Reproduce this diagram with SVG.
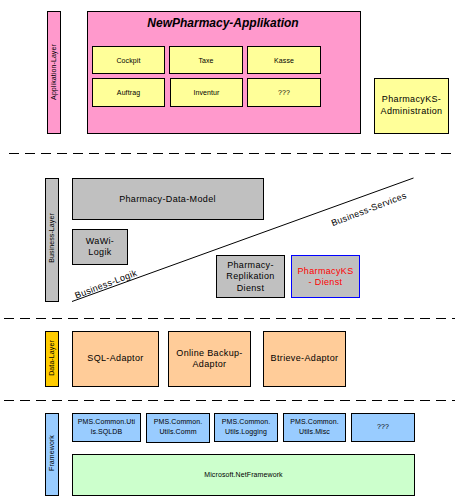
<svg xmlns="http://www.w3.org/2000/svg" width="461" height="500" viewBox="0 0 461 500">
<style>
rect{stroke:#000;stroke-width:1}
.pink{fill:#FF99CC}
.yel{fill:#FFFF99}
.gray{fill:#C0C0C0}
.peach{fill:#FFCC99}
.gold{fill:#FFCC00}
.blue{fill:#99CCFF}
.green{fill:#CCFFCC}
text{font-family:"Liberation Sans",Arial,sans-serif;text-anchor:middle;fill:#000}
.s{font-size:7px;letter-spacing:0.1px}
.m{font-size:9px;letter-spacing:0.35px}
.title{font-size:12px;font-weight:bold;font-style:italic}
.dash{stroke:#000;stroke-width:1;stroke-dasharray:10,6;fill:none}
</style>
<rect width="461" height="500" fill="#fff" style="stroke:none"/>
<g id="separators">
<line class="dash" x1="9" y1="153.5" x2="455" y2="153.5"/>
<line class="dash" x1="4" y1="318.5" x2="455" y2="318.5"/>
<line class="dash" x1="4" y1="400.5" x2="455" y2="400.5"/>
</g>
<g id="applikation-layer">
<rect class="pink" x="47.5" y="11.5" width="13" height="122"/>
<text class="s" transform="translate(56,72) rotate(-90)">Applikation-Layer</text>
</g>
<g id="newpharmacy">
<rect class="pink" x="87.5" y="11.5" width="273" height="122"/>
<text class="title" x="223" y="27">NewPharmacy-Applikation</text>
</g>
<g id="cockpit"><rect class="yel" x="92.5" y="46.5" width="72" height="27"/><text class="s" x="128.5" y="62.5">Cockpit</text></g>
<g id="taxe"><rect class="yel" x="169.5" y="46.5" width="73" height="27"/><text class="s" x="206" y="62.5">Taxe</text></g>
<g id="kasse"><rect class="yel" x="247.5" y="46.5" width="73" height="27"/><text class="s" x="284" y="62.5">Kasse</text></g>
<g id="auftrag"><rect class="yel" x="92.5" y="78.5" width="72" height="28"/><text class="s" x="128.5" y="94.5">Auftrag</text></g>
<g id="inventur"><rect class="yel" x="170.5" y="78.5" width="72" height="28"/><text class="s" x="206.5" y="94.5">Inventur</text></g>
<g id="app-unknown"><rect class="yel" x="247.5" y="78.5" width="73" height="28"/><text class="s" x="284" y="94.5">???</text></g>
<g id="pharmacyks-admin">
<rect class="yel" x="374.5" y="78.5" width="74" height="55"/>
<text class="m" x="411.5" y="102">PharmacyKS-</text>
<text class="m" x="411.5" y="114">Administration</text>
</g>
<g id="business-layer">
<rect class="gray" x="45.5" y="178.5" width="13" height="123"/>
<text class="s" transform="translate(54,238) rotate(-90)">Business-Layer</text>
</g>
<g id="data-model"><rect class="gray" x="72.5" y="178.5" width="191" height="41"/><text class="m" x="167.5" y="202">Pharmacy-Data-Model</text></g>
<g id="wawi"><rect class="gray" x="72.5" y="229.5" width="55" height="35"/><text class="m" x="100" y="244">WaWi-</text><text class="m" x="100" y="255">Logik</text></g>
<g id="replikation"><rect class="gray" x="216.5" y="255.5" width="68" height="42"/><text class="m" x="250.5" y="268">Pharmacy-</text><text class="m" x="250.5" y="279">Replikation</text><text class="m" x="250.5" y="290.5">Dienst</text></g>
<g id="pharmacyks-dienst"><rect class="gray" x="291.5" y="255.5" width="68" height="42" style="stroke:#0000FF"/><text class="m" x="325.5" y="273.5" style="fill:#FF0000">PharmacyKS</text><text class="m" x="325.5" y="285" style="fill:#FF0000">- Dienst</text></g>
<g id="connectors">
<line x1="72" y1="301.5" x2="413.5" y2="178" stroke="#000" stroke-width="1"/>
<text class="m" transform="translate(107,287) rotate(-21)">Business-Logik</text>
<text class="m" transform="translate(370,212) rotate(-21)">Business-Services</text>
</g>
<g id="data-layer">
<rect class="gold" x="45.5" y="331.5" width="13" height="55"/>
<text class="s" transform="translate(54,358) rotate(-90)">Data-Layer</text>
</g>
<g id="sql"><rect class="peach" x="72.5" y="331.5" width="86" height="55"/><text class="m" x="115.5" y="361">SQL-Adaptor</text></g>
<g id="backup"><rect class="peach" x="168.5" y="331.5" width="82" height="55"/><text class="m" x="209.5" y="356">Online Backup-</text><text class="m" x="209.5" y="367">Adaptor</text></g>
<g id="btrieve"><rect class="peach" x="263.5" y="331.5" width="82" height="55"/><text class="m" x="304.5" y="361">Btrieve-Adaptor</text></g>
<g id="framework">
<rect class="blue" x="45.5" y="413.5" width="13" height="82"/>
<text class="s" transform="translate(54,453) rotate(-90)">Framework</text>
</g>
<g id="sqldb"><rect class="blue" x="72.5" y="413.5" width="68" height="28"/><text class="s" x="106.5" y="424">PMS.Common.Uti</text><text class="s" x="106.5" y="433.5">ls.SQLDB</text></g>
<g id="comm"><rect class="blue" x="146.5" y="413.5" width="63" height="29"/><text class="s" x="178" y="424">PMS.Common.</text><text class="s" x="178" y="433.5">Utils.Comm</text></g>
<g id="logging"><rect class="blue" x="214.5" y="413.5" width="63" height="28"/><text class="s" x="246" y="424">PMS.Common.</text><text class="s" x="246" y="433.5">Utils.Logging</text></g>
<g id="misc"><rect class="blue" x="283.5" y="413.5" width="62" height="28"/><text class="s" x="314.5" y="424">PMS.Common.</text><text class="s" x="314.5" y="433.5">Utils.Misc</text></g>
<g id="fw-unknown"><rect class="blue" x="351.5" y="413.5" width="63" height="28"/><text class="s" x="383" y="429">???</text></g>
<g id="dotnet"><rect class="green" x="72.5" y="454.5" width="342" height="41"/><text class="s" x="243.5" y="477">Microsoft.NetFramework</text></g>
</svg>
